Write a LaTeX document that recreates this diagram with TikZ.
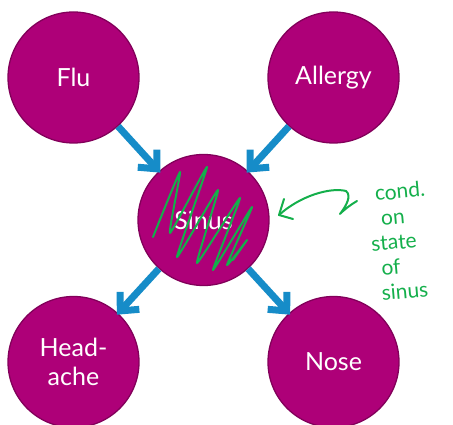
\documentclass[tikz,border=0pt]{standalone}
\usepackage{fontspec}
\setmainfont{Lato}
\usetikzlibrary{arrows.meta}
\definecolor{mag}{RGB}{174,0,120}
\definecolor{magdark}{RGB}{130,0,90}
\definecolor{arrblue}{RGB}{22,140,200}
\definecolor{pen}{RGB}{20,175,75}
\tikzset{
  blob/.style={circle, minimum size=131pt, inner sep=0pt, fill=mag, draw=magdark, line width=1.3pt,
    text=white, font=\fontsize{25}{28}\selectfont, align=center},
  arr/.style={draw=arrblue, line width=7pt, -{Straight Barb[length=14pt,width=26pt]}, shorten >=-2pt},
  ink/.style={draw=pen, line width=2pt, line cap=round, line join=round},
  hand/.style={text=pen, font=\fontsize{21}{25}\selectfont, inner sep=0pt, rotate=5, align=left}
}
\begin{document}
\begin{tikzpicture}[x=1pt,y=-1pt]
\useasboundingbox (0,0) rectangle (453,425);
\clip (0,0) rectangle (453,425);
\node[blob] (flu) at (73.5,77.5) {Flu};
\node[blob] (allergy) at (333.5,77.5) {Allergy};
\node[blob] (sinus) at (203.5,220) {Sinus};
\node[blob] (headache) at (73.5,362) {Head-\\[1pt]ache};
\node[blob] (nose) at (333.5,362) {Nose};
\draw[arr] (flu) -- (sinus);
\draw[arr] (allergy) -- (sinus);
\draw[arr] (sinus) -- (headache);
\draw[arr] (sinus) -- (nose);
% scribble over Sinus
\draw[ink] plot[smooth, tension=0.25] coordinates {
 (153,237) (180,172) (170,233) (207,167) (177,257) (218,190) (197,263)
 (240,198) (213,270) (252,207) (227,265) (247,240) (233,260)};
% annotation arrow
\coordinate (a0) at (357,201);
\coordinate (a1) at (279,215);
\draw[ink] (a0) .. controls (345,208) and (338,216) .. (340,214)
  .. controls (346,206) and (352,196) .. (346,191)
  .. controls (330,187) and (300,196) .. (a1);
\draw[ink] (284,199) -- (a1) -- (293,219);
% handwritten note
\node[hand, anchor=north west] (note) at (366,186)
  {\hspace*{8pt}cond.\\ \hspace*{12pt}on\\ state\\ \hspace*{8pt}of\\ \hspace*{6pt}sinus};
\end{tikzpicture}
\end{document}
